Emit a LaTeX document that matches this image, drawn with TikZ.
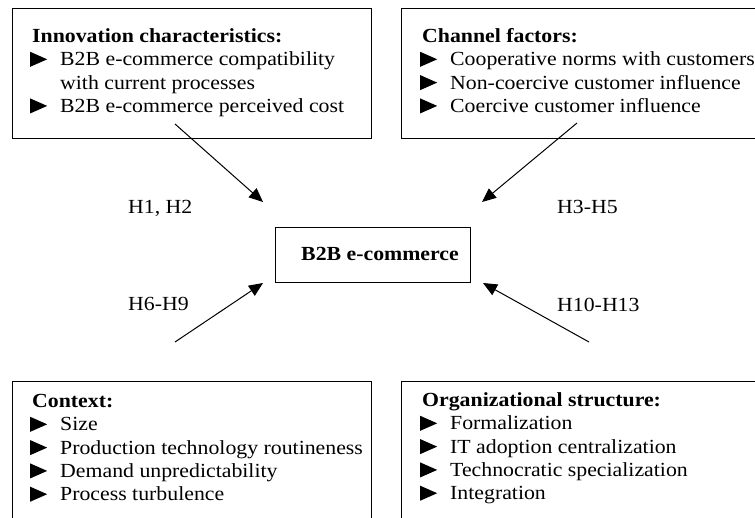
\documentclass[tikz,border=0pt]{standalone}
\usepackage{fontspec}
\setmainfont{Liberation Serif}[FakeStretch=1.09]
\usetikzlibrary{arrows.meta}
\newcommand{\bul}{\makebox[28pt][l]{\hspace*{-2pt}\tikz[baseline=0pt]{\fill[black] (0pt,-1pt) -- (17pt,6.5pt) -- (0pt,14pt) -- cycle;}}}
\newcommand{\ind}{\hspace*{28pt}}
\tikzset{
  box/.style={draw=black, line width=1pt, anchor=north west, inner sep=0pt},
  txt/.style={anchor=north west, inner sep=0pt, align=left, font=\fontsize{20}{23.3}\selectfont},
  lbl/.style={anchor=base west, inner sep=0pt, font=\fontsize{20}{23.3}\selectfont},
  arr/.style={line width=1pt, -{Triangle[length=14pt,width=12pt]}}
}
\begin{document}
\begin{tikzpicture}[x=1pt,y=-1pt]
\useasboundingbox (0,0) rectangle (755,517);
\clip (0,0) rectangle (755,517);
% boxes
\node[box, minimum width=359pt, minimum height=130pt] (innov) at (12,8) {};
\node[box, minimum width=380pt, minimum height=130pt] (chan) at (401,8) {};
\node[box, minimum width=359pt, minimum height=160pt] (ctx) at (12,381) {};
\node[box, minimum width=380pt, minimum height=160pt] (org) at (401,381) {};
% texts
\node[txt] (innovt) at (32,26) {\strut\textbf{Innovation characteristics:}\\
\bul B2B e-commerce compatibility\\
\ind with current processes\\
\bul B2B e-commerce perceived cost};
\node[txt] (chant) at (422,26) {\strut\textbf{Channel factors:}\\
\bul Cooperative norms with customers\\
\bul Non-coercive customer influence\\
\bul Coercive customer influence};
\node[txt] (ctxt) at (32,391) {\strut\textbf{Context:}\\
\bul Size\\
\bul Production technology routineness\\
\bul Demand unpredictability\\
\bul Process turbulence};
\node[txt] (orgt) at (422,390) {\strut\textbf{Organizational structure:}\\
\bul Formalization\\
\bul IT adoption centralization\\
\bul Technocratic specialization\\
\bul Integration};
% center
\node[draw=black, line width=1pt, minimum width=195pt, minimum height=55pt, inner sep=0pt] (core) at (372.5,254.5) {};
\node[anchor=base, inner sep=0pt, font=\fontsize{20}{23.3}\selectfont\bfseries] (coret) at (380,260) {B2B e-commerce};
% arrows
\coordinate (s1) at (175,124);
\coordinate (e1) at (263,202);
\coordinate (s2) at (577,123);
\coordinate (e2) at (482,202);
\coordinate (s3) at (175,342);
\coordinate (e3) at (263,283);
\coordinate (s4) at (589,342);
\coordinate (e4) at (483,283);
\draw[arr] (s1) -- (e1);
\draw[arr] (s2) -- (e2);
\draw[arr] (s3) -- (e3);
\draw[arr] (s4) -- (e4);
% labels
\node[lbl] (h1) at (128,213) {H1, H2};
\node[lbl] (h2) at (557,213) {H3-H5};
\node[lbl] (h3) at (128,310) {H6-H9};
\node[lbl] (h4) at (557,311) {H10-H13};
\end{tikzpicture}
\end{document}
